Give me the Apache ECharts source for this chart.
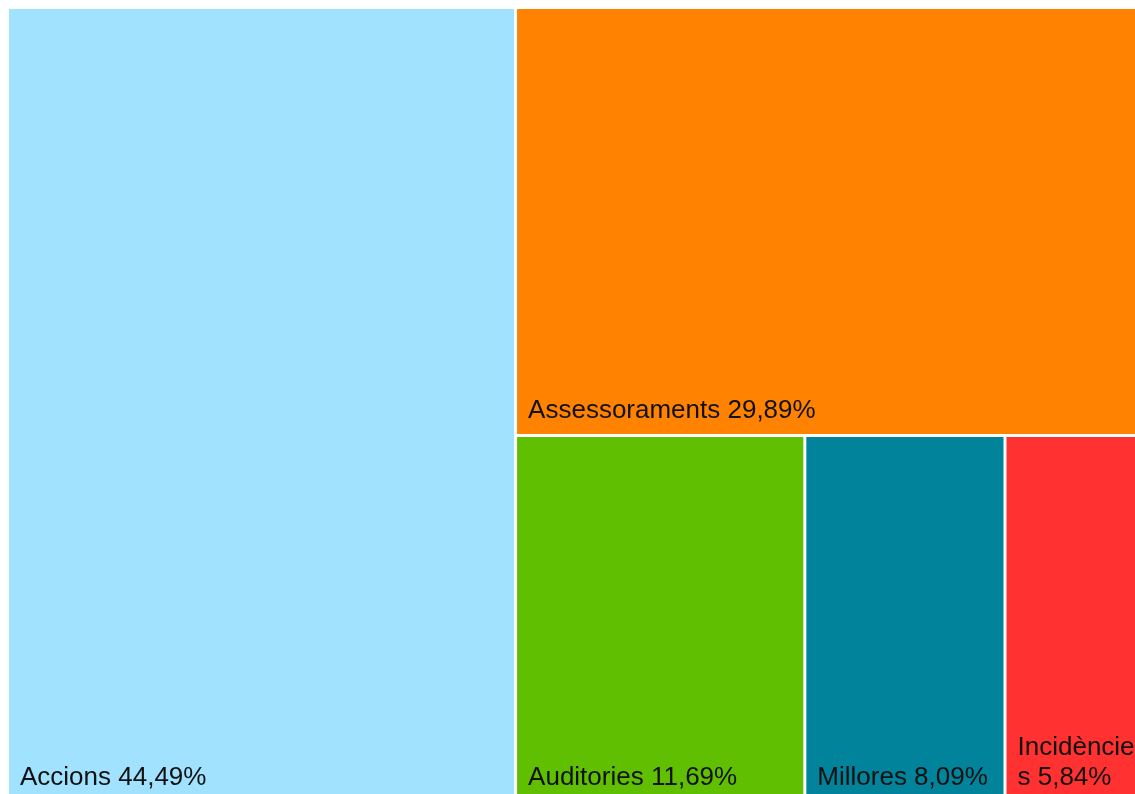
<!DOCTYPE html>
<html>
<head>
<meta charset="utf-8">
<style>
html,body{margin:0;padding:0;background:#fff;}
#chart{width:1135px;height:794px;}
</style>
<script src="https://cdn.jsdelivr.net/npm/echarts@6/dist/echarts.min.js"></script>
</head>
<body>
<div id="chart"></div>
<script>
const categories = ['Accions', 'Assessoraments', 'Auditories', 'Millores', 'Incidències'];
const values = [44.49, 29.89, 11.69, 8.09, 5.84];
const colors = ['#a0e2ff', '#ff8300', '#5fbf00', '#00839b', '#ff3131'];

const chart = echarts.init(document.getElementById('chart'));
const data = categories.map((c, i) => ({
  name: c,
  value: values[i],
  itemStyle: { color: colors[i] }
}));
chart.setOption({
  animation: false,
  series: [{
    type: 'treemap',
    left: 9, top: 9, width: 1139, height: 792,
    roam: false,
    nodeClick: false,
    breadcrumb: { show: false },
    sort: 'desc',
    squareRatio: 1.28,
    itemStyle: { borderWidth: 0, gapWidth: 3, borderColor: '#fff' },
    label: {
      show: true,
      position: 'insideBottomLeft',
      distance: 3,
      offset: [3, 0],
      fontFamily: 'Liberation Sans, Arial, sans-serif',
      fontSize: 26,
      lineHeight: 30,
      color: '#111',
      overflow: 'breakAll',
      formatter: p => p.name + ' ' + p.value.toFixed(2).replace('.', ',') + '%'
    },
    data: data
  }]
});
</script>
</body>
</html>
